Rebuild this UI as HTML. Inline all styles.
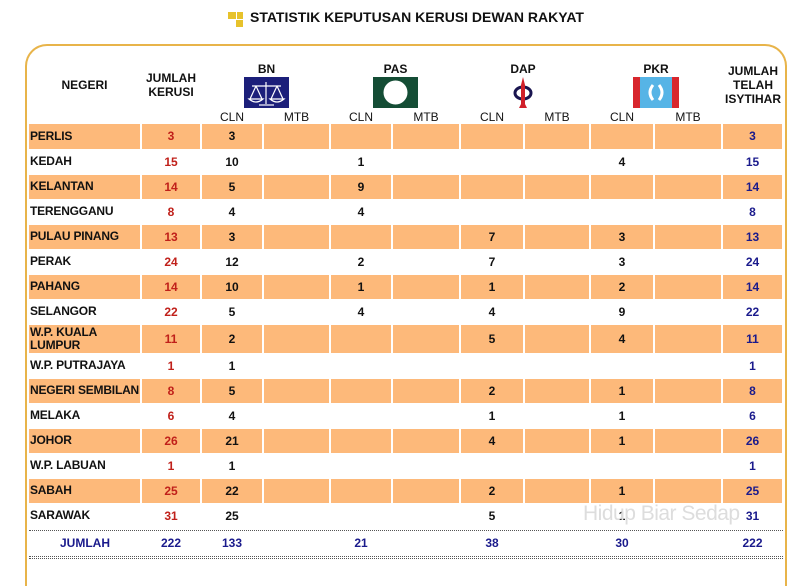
<!DOCTYPE html>
<html><head><meta charset="utf-8"><style>
html,body{margin:0;width:800px;height:586px;background:#fff;position:relative;overflow:hidden;font-family:"Liberation Sans",Arial,sans-serif;}
.a{position:absolute;}
.t{font-weight:bold;font-size:12px;color:#111;text-align:center;}
.frame{position:absolute;left:25px;top:44px;width:762px;height:542px;border:2px solid #e8b44a;border-bottom:none;border-radius:22px 22px 0 0;box-sizing:border-box;}
table{position:absolute;left:29px;top:124px;border-collapse:collapse;table-layout:fixed;}
td{height:25px;padding:0;font-size:12px;font-weight:bold;text-align:center;vertical-align:middle;border-right:2px solid #fff;border-bottom:1px solid #fff;box-sizing:border-box;color:#111;}
tr.o td{background:#fdb97a;}
td.n{text-align:left;font-size:12px;padding-left:1px;line-height:13px;letter-spacing:-0.2px;}
td.r{color:#c0201a;} td.b{color:#1a1a8c;}
.dot{position:absolute;left:29px;width:754px;border-top:1px dotted #555;}
</style></head><body>
<div class="a" style="left:228px;top:12px;width:8px;height:7px;background:#e7c22b"></div>
<div class="a" style="left:237px;top:12px;width:6px;height:7px;background:#e7c22b"></div>
<div class="a" style="left:236px;top:20px;width:7px;height:7px;background:#e7c22b"></div>
<div class="a" style="left:250px;top:9px;font-weight:bold;font-size:14px;color:#111">STATISTIK KEPUTUSAN KERUSI DEWAN RAKYAT</div>
<div class="frame"></div>
<div class="a t" style="left:29px;top:78px;width:111px">NEGERI</div>
<div class="a t" style="left:141px;top:71px;width:60px;line-height:14px">JUMLAH<br>KERUSI</div>
<div class="a t" style="left:722px;top:64px;width:62px;line-height:14px">JUMLAH<br>TELAH<br>ISYTIHAR</div>
<div class="a t" style="left:244px;top:62px;width:45px">BN</div>
<div class="a t" style="left:373px;top:62px;width:45px">PAS</div>
<div class="a t" style="left:500px;top:62px;width:46px">DAP</div>
<div class="a t" style="left:633px;top:62px;width:46px">PKR</div>
<svg class="a" style="left:244px;top:77px" width="45" height="31"><rect width="45" height="31" fill="#1c1f7a"/><g stroke="#fff" fill="none" stroke-width="1.2"><line x1="8" y1="9" x2="37" y2="9"/><line x1="22" y1="5" x2="22" y2="27"/><path d="M12 9 L6 22 M12 9 L18 22 M33 9 L27 22 M33 9 L39 22"/><path d="M5 22 Q12 28 19 22 Z M26 22 Q33 28 40 22 Z"/><line x1="15" y1="28" x2="30" y2="28"/></g></svg>
<svg class="a" style="left:373px;top:77px" width="45" height="31"><rect width="45" height="31" fill="#144d35"/><circle cx="22.5" cy="15.5" r="12" fill="#fff"/></svg>
<svg class="a" style="left:512px;top:77px" width="22" height="32"><ellipse cx="11" cy="16" rx="8" ry="6" fill="none" stroke="#1a1550" stroke-width="3"/><path d="M11 0 L13 8 L13 27 L15 31 L7 31 L9 27 L9 8 Z" fill="#d0202a"/></svg>
<svg class="a" style="left:633px;top:77px" width="46" height="31"><rect width="46" height="31" fill="#d8262d"/><rect x="7" width="32" height="31" fill="#56b4e6"/><path d="M20 8 Q14 15.5 20 23" stroke="#fff" stroke-width="3" fill="none"/><path d="M26 8 Q32 15.5 26 23" stroke="#fff" stroke-width="3" fill="none"/></svg>
<div class="a t" style="left:201px;top:110px;width:62px;font-weight:normal;font-size:12px">CLN</div>
<div class="a t" style="left:263px;top:110px;width:67px;font-weight:normal;font-size:12px">MTB</div>
<div class="a t" style="left:330px;top:110px;width:62px;font-weight:normal;font-size:12px">CLN</div>
<div class="a t" style="left:392px;top:110px;width:68px;font-weight:normal;font-size:12px">MTB</div>
<div class="a t" style="left:460px;top:110px;width:64px;font-weight:normal;font-size:12px">CLN</div>
<div class="a t" style="left:524px;top:110px;width:66px;font-weight:normal;font-size:12px">MTB</div>
<div class="a t" style="left:590px;top:110px;width:64px;font-weight:normal;font-size:12px">CLN</div>
<div class="a t" style="left:654px;top:110px;width:68px;font-weight:normal;font-size:12px">MTB</div>
<table>
<colgroup><col style="width:112px"><col style="width:60px"><col style="width:62px"><col style="width:67px"><col style="width:62px"><col style="width:68px"><col style="width:64px"><col style="width:66px"><col style="width:64px"><col style="width:68px"><col style="width:61px"></colgroup>
<tr class="o"><td class="n">PERLIS</td><td class="r">3</td><td>3</td><td></td><td></td><td></td><td></td><td></td><td></td><td></td><td class="b">3</td></tr>
<tr><td class="n">KEDAH</td><td class="r">15</td><td>10</td><td></td><td>1</td><td></td><td></td><td></td><td>4</td><td></td><td class="b">15</td></tr>
<tr class="o"><td class="n">KELANTAN</td><td class="r">14</td><td>5</td><td></td><td>9</td><td></td><td></td><td></td><td></td><td></td><td class="b">14</td></tr>
<tr><td class="n">TERENGGANU</td><td class="r">8</td><td>4</td><td></td><td>4</td><td></td><td></td><td></td><td></td><td></td><td class="b">8</td></tr>
<tr class="o"><td class="n">PULAU PINANG</td><td class="r">13</td><td>3</td><td></td><td></td><td></td><td>7</td><td></td><td>3</td><td></td><td class="b">13</td></tr>
<tr><td class="n">PERAK</td><td class="r">24</td><td>12</td><td></td><td>2</td><td></td><td>7</td><td></td><td>3</td><td></td><td class="b">24</td></tr>
<tr class="o"><td class="n">PAHANG</td><td class="r">14</td><td>10</td><td></td><td>1</td><td></td><td>1</td><td></td><td>2</td><td></td><td class="b">14</td></tr>
<tr><td class="n">SELANGOR</td><td class="r">22</td><td>5</td><td></td><td>4</td><td></td><td>4</td><td></td><td>9</td><td></td><td class="b">22</td></tr>
<tr class="o"><td class="n" style="height:29px">W.P. KUALA<br>LUMPUR</td><td class="r">11</td><td>2</td><td></td><td></td><td></td><td>5</td><td></td><td>4</td><td></td><td class="b">11</td></tr>
<tr><td class="n">W.P. PUTRAJAYA</td><td class="r">1</td><td>1</td><td></td><td></td><td></td><td></td><td></td><td></td><td></td><td class="b">1</td></tr>
<tr class="o"><td class="n">NEGERI SEMBILAN</td><td class="r">8</td><td>5</td><td></td><td></td><td></td><td>2</td><td></td><td>1</td><td></td><td class="b">8</td></tr>
<tr><td class="n">MELAKA</td><td class="r">6</td><td>4</td><td></td><td></td><td></td><td>1</td><td></td><td>1</td><td></td><td class="b">6</td></tr>
<tr class="o"><td class="n">JOHOR</td><td class="r">26</td><td>21</td><td></td><td></td><td></td><td>4</td><td></td><td>1</td><td></td><td class="b">26</td></tr>
<tr><td class="n">W.P. LABUAN</td><td class="r">1</td><td>1</td><td></td><td></td><td></td><td></td><td></td><td></td><td></td><td class="b">1</td></tr>
<tr class="o"><td class="n">SABAH</td><td class="r">25</td><td>22</td><td></td><td></td><td></td><td>2</td><td></td><td>1</td><td></td><td class="b">25</td></tr>
<tr><td class="n">SARAWAK</td><td class="r">31</td><td>25</td><td></td><td></td><td></td><td>5</td><td></td><td>1</td><td></td><td class="b">31</td></tr>
</table>
<div class="a" style="left:583px;top:502px;font-size:21px;color:#ddd;letter-spacing:-0.5px">Hidup Biar Sedap</div>
<div class="dot" style="top:530px"></div>
<div class="dot" style="top:556px"></div>
<div class="dot" style="top:558px"></div>
<div class="a t" style="top:536px;left:29px;width:112px;color:#1a1a8c;font-size:12px">JUMLAH</div>
<div class="a t" style="top:536px;left:141px;width:60px;color:#1a1a8c;font-size:12px">222</div>
<div class="a t" style="top:536px;left:201px;width:62px;color:#1a1a8c;font-size:12px">133</div>
<div class="a t" style="top:536px;left:330px;width:62px;color:#1a1a8c;font-size:12px">21</div>
<div class="a t" style="top:536px;left:460px;width:64px;color:#1a1a8c;font-size:12px">38</div>
<div class="a t" style="top:536px;left:590px;width:64px;color:#1a1a8c;font-size:12px">30</div>
<div class="a t" style="top:536px;left:722px;width:61px;color:#1a1a8c;font-size:12px">222</div>
</body></html>
